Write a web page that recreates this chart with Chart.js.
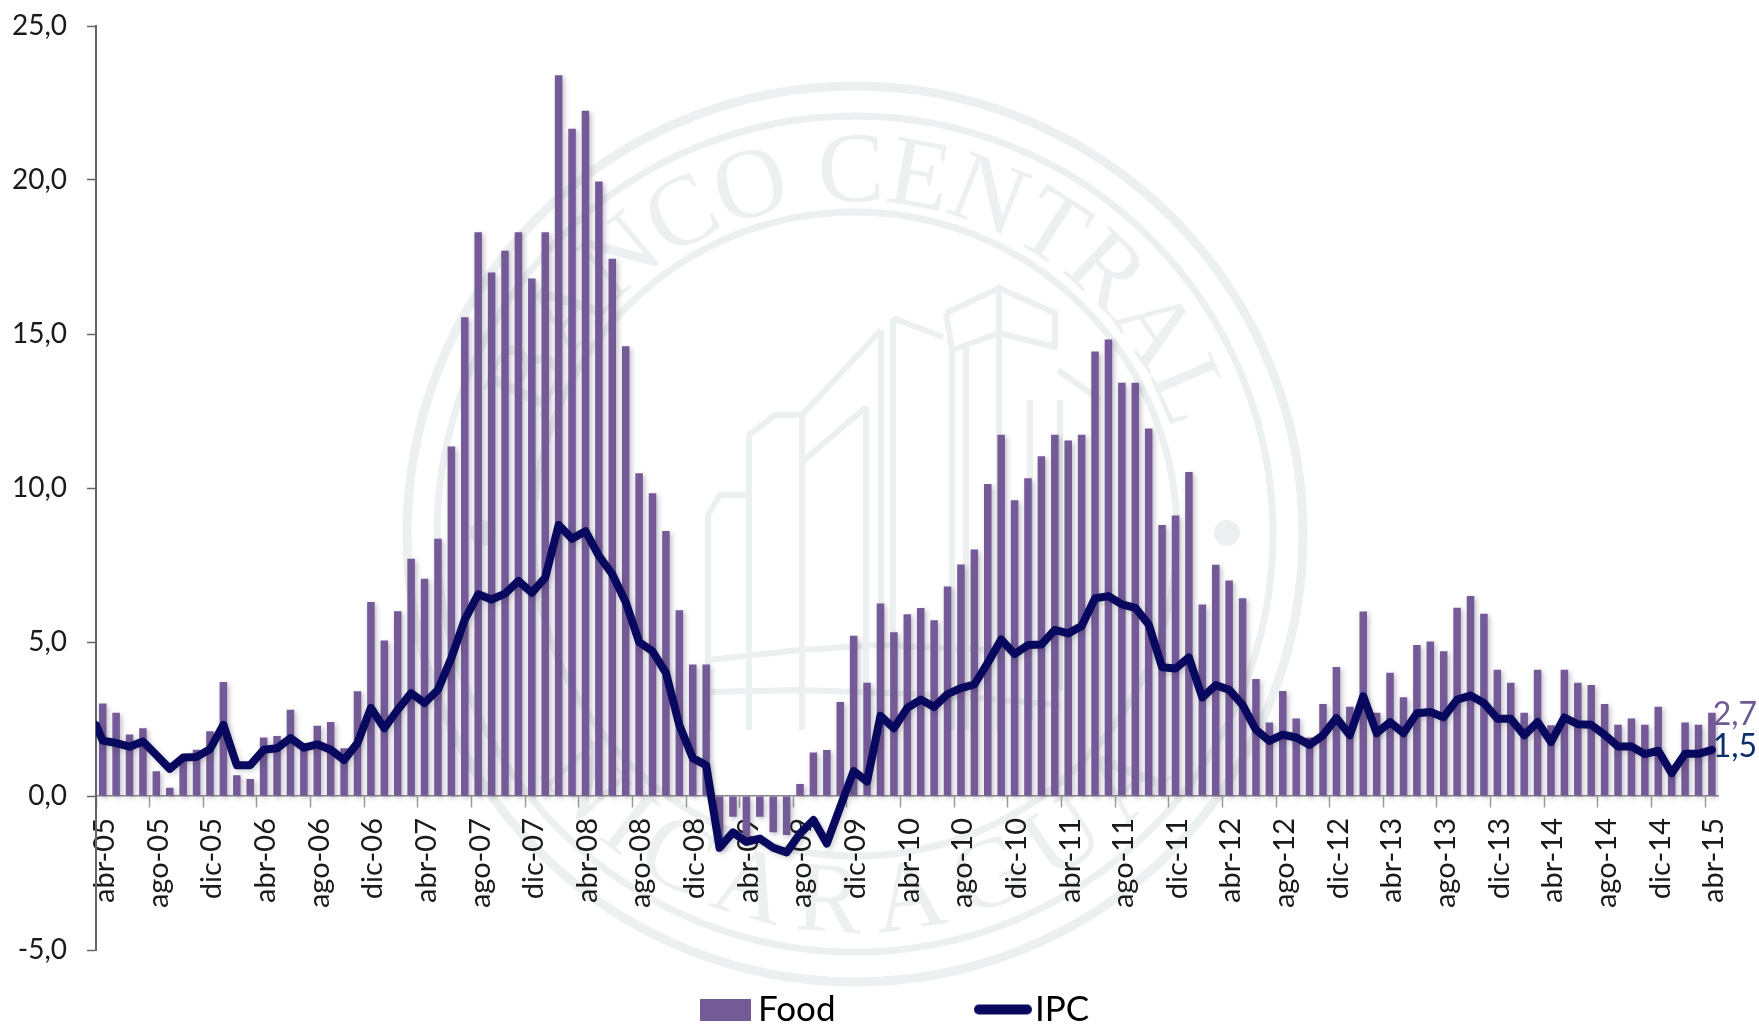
<!DOCTYPE html>
<html lang="es">
<head>
<meta charset="utf-8">
<title>Food e IPC</title>
<script src="https://cdn.jsdelivr.net/npm/chart.js@4"></script>
<style>
html,body{margin:0;padding:0;background:#fff;overflow:hidden}
#wrap{position:relative;width:1759px;height:1024px}
</style>
</head>
<body>
<div id="wrap"><canvas id="c" width="1759" height="1024"></canvas></div>
<script>
const months = [
 'abr-05','may-05','jun-05','jul-05','ago-05','sep-05','oct-05','nov-05','dic-05','ene-06','feb-06','mar-06',
 'abr-06','may-06','jun-06','jul-06','ago-06','sep-06','oct-06','nov-06','dic-06','ene-07','feb-07','mar-07',
 'abr-07','may-07','jun-07','jul-07','ago-07','sep-07','oct-07','nov-07','dic-07','ene-08','feb-08','mar-08',
 'abr-08','may-08','jun-08','jul-08','ago-08','sep-08','oct-08','nov-08','dic-08','ene-09','feb-09','mar-09',
 'abr-09','may-09','jun-09','jul-09','ago-09','sep-09','oct-09','nov-09','dic-09','ene-10','feb-10','mar-10',
 'abr-10','may-10','jun-10','jul-10','ago-10','sep-10','oct-10','nov-10','dic-10','ene-11','feb-11','mar-11',
 'abr-11','may-11','jun-11','jul-11','ago-11','sep-11','oct-11','nov-11','dic-11','ene-12','feb-12','mar-12',
 'abr-12','may-12','jun-12','jul-12','ago-12','sep-12','oct-12','nov-12','dic-12','ene-13','feb-13','mar-13',
 'abr-13','may-13','jun-13','jul-13','ago-13','sep-13','oct-13','nov-13','dic-13','ene-14','feb-14','mar-14',
 'abr-14','may-14','jun-14','jul-14','ago-14','sep-14','oct-14','nov-14','dic-14','ene-15','feb-15','mar-15',
 'abr-15'];

const food = [
 3.0,2.7,2.0,2.2,0.8,0.27,1.3,1.5,2.1,3.7,0.67,0.55,
 1.9,1.95,2.8,1.6,2.28,2.4,1.55,3.4,6.3,5.05,6.0,7.7,
 7.05,8.35,11.35,15.54,18.3,17.0,17.7,18.3,16.8,18.3,23.4,21.66,
 22.25,19.95,17.44,14.6,10.48,9.83,8.6,6.03,4.27,4.27,-1.7,-0.67,
 -1.4,-0.67,-1.18,-1.27,0.39,1.41,1.49,3.05,5.2,3.68,6.25,5.32,
 5.9,6.1,5.71,6.8,7.52,8.0,10.13,11.73,9.6,10.32,11.03,11.73,
 11.54,11.73,14.43,14.82,13.42,13.42,11.93,8.8,9.11,10.52,6.22,7.51,
 7.0,6.42,3.8,2.39,3.41,2.52,1.9,2.99,4.19,2.9,5.99,2.7,
 4.0,3.21,4.9,5.02,4.7,6.11,6.49,5.92,4.1,3.68,2.7,4.1,
 2.3,4.1,3.68,3.6,2.99,2.31,2.52,2.31,2.9,0.9,2.39,2.31,
 2.7];

const ipc = [
 1.8,1.72,1.6,1.77,1.33,0.88,1.25,1.27,1.52,2.31,1.0,1.0,
 1.5,1.55,1.88,1.57,1.68,1.5,1.17,1.72,2.86,2.2,2.8,3.34,
 3.02,3.45,4.48,5.73,6.55,6.38,6.57,6.98,6.6,7.09,8.8,8.35,
 8.6,7.8,7.2,6.3,5.0,4.7,4.0,2.3,1.23,1.0,-1.68,-1.18,
 -1.49,-1.38,-1.68,-1.83,-1.22,-0.78,-1.54,-0.35,0.81,0.47,2.6,2.2,
 2.86,3.13,2.89,3.31,3.5,3.62,4.32,5.08,4.61,4.9,4.92,5.39,
 5.28,5.52,6.42,6.49,6.22,6.11,5.57,4.18,4.14,4.5,3.2,3.6,
 3.45,2.96,2.15,1.79,1.99,1.9,1.66,1.97,2.53,1.97,3.24,2.04,
 2.4,2.04,2.69,2.73,2.56,3.13,3.26,3.02,2.51,2.51,1.97,2.4,
 1.75,2.55,2.33,2.31,1.99,1.61,1.61,1.36,1.47,0.74,1.37,1.37,
 1.5];
const ipcLeadIn = 2.3;   // where the line meets the value axis, half a month before abr-05

const FOOD_COLOR = '#745b97';
const IPC_COLOR = '#08085e';
const SEAL_COLOR = '#edf0f0';
const FONT = 'Lato, "Open Sans", sans-serif';
const fmt = v => v.toFixed(1).replace('.', ',');

function swatch(w, h, draw) {
  const c = document.createElement('canvas');
  c.width = w; c.height = h;
  draw(c.getContext('2d'));
  return c;
}
const foodSwatch = swatch(51, 22, g => { g.fillStyle = FOOD_COLOR; g.fillRect(0, 0, 51, 22); });
const ipcSwatch = swatch(58, 12, g => {
  g.strokeStyle = IPC_COLOR; g.lineWidth = 10; g.lineCap = 'round';
  g.beginPath(); g.moveTo(5, 6); g.lineTo(53, 6); g.stroke();
});

/* the bank's seal behind the chart */
function arcText(g, text, cx, cy, r, startDeg, endDeg, bottom) {
  const widths = [...text].map(ch => g.measureText(ch).width);
  const total = widths.reduce((a, b) => a + b, 0);
  const span = (endDeg - startDeg) * Math.PI / 180;
  let run = 0;
  [...text].forEach((ch, i) => {
    const mid = (run + widths[i] / 2) / total;
    const a = startDeg * Math.PI / 180 + span * mid;
    run += widths[i];
    g.save();
    if (bottom) {
      g.translate(cx + r * Math.sin(a), cy + r * Math.cos(a));
      g.rotate(-a);
    } else {
      g.translate(cx + r * Math.sin(a), cy - r * Math.cos(a));
      g.rotate(a);
    }
    g.fillText(ch, 0, 0);
    g.restore();
  });
}
const sealPlugin = {
  id: 'seal',
  beforeDraw(chart) {
    const g = chart.ctx, cx = 855, cy = 534;
    g.save();
    g.strokeStyle = SEAL_COLOR; g.fillStyle = SEAL_COLOR;
    [[448, 9], [418, 7], [322, 7]].forEach(([r, w]) => {
      g.lineWidth = w; g.beginPath(); g.arc(cx, cy, r, 0, Math.PI * 2); g.stroke();
    });
    g.textAlign = 'center'; g.textBaseline = 'alphabetic';
    g.font = '100px "Liberation Serif", serif';
    arcText(g, 'BANCO CENTRAL', cx, cy, 333, -70, 72, false);
    arcText(g, 'NICARAGUA', cx, cy, 398, -54, 54, true);
    [[1227, 533], [483, 533]].forEach(([x, y]) => {
      g.beginPath(); g.arc(x, y, 13, 0, Math.PI * 2); g.fill();
    });
    const building = [
      [[946,313],[999,288],[1055,313],[1055,347],[999,333],[952,350],[946,313]],
      [[999,288],[999,730]],
      [[952,350],[952,730]],[[966,347],[966,730]],
      [[893,318],[943,337]],[[893,318],[893,730]],[[881,330],[881,730]],
      [[881,330],[802,415]],[[802,415],[802,730]],
      [[866,407],[866,730]],[[866,407],[802,462]],
      [[802,415],[775,415],[749,435],[749,730]],
      [[749,495],[720,495],[708,515],[708,730]],
      [[1058,370],[1100,400]],[[1030,400],[1030,720]],[[1060,400],[1060,690]],
      [[708,660],[800,650],[880,645],[990,650]],
      [[708,692],[800,690],[945,695],[1060,705]]
    ];
    g.lineWidth = 6; g.lineJoin = 'round';
    building.forEach(path => {
      g.beginPath();
      path.forEach(([x, y], i) => i ? g.lineTo(x, y) : g.moveTo(x, y));
      g.stroke();
    });
    g.restore();
  }
};

/* soft shadow under the bars and the line */
const shadowPlugin = {
  id: 'softShadow',
  beforeDatasetDraw(chart, args) {
    const g = chart.ctx; g.save();
    g.shadowColor = args.index === 0 ? 'rgba(60,50,80,.32)' : 'rgba(40,40,60,.22)';
    g.shadowBlur = 5; g.shadowOffsetX = 2; g.shadowOffsetY = 2;
  },
  afterDatasetDraw(chart) { chart.ctx.restore(); }
};

/* last-value labels, positioned from the library's own elements */
const endLabels = {
  id: 'endLabels',
  afterDatasetsDraw(chart) {
    const g = chart.ctx;
    g.save();
    g.font = '32px ' + FONT; g.textAlign = 'center'; g.textBaseline = 'middle';
    const x = chart.getDatasetMeta(0).data[food.length - 1].x + 23;
    const yScale = chart.scales.y;
    g.fillStyle = '#6f5a93';
    g.fillText(fmt(food[food.length - 1]), x, yScale.getPixelForValue(food[food.length - 1]) + 2);
    g.fillStyle = '#0b2f6a';
    g.fillText(fmt(ipc[ipc.length - 1]), x, yScale.getPixelForValue(ipc[ipc.length - 1]) - 3);
    g.restore();
  }
};

/* place the legend where the reference has it */
const legendPlace = {
  id: 'legendPlace',
  afterLayout(chart) {
    const l = chart.legend, shift = 41;
    l.left += shift; l.right += shift;
    l.top = 992 - 153; l.bottom = 1024;
  }
};

new Chart(document.getElementById('c'), {
  type: 'bar',
  data: {
    labels: months,
    datasets: [
      { type: 'bar', label: 'Food', data: food, backgroundColor: FOOD_COLOR, grouped: false,
        barPercentage: 0.56, categoryPercentage: 1, order: 1, xAxisID: 'x', yAxisID: 'y' },
      { type: 'line', label: 'IPC',
        data: [{ x: -0.5, y: ipcLeadIn }, ...ipc.map((y, i) => ({ x: i, y }))],
        borderColor: IPC_COLOR, backgroundColor: IPC_COLOR, borderWidth: 8,
        borderJoinStyle: 'round', borderCapStyle: 'round', tension: 0, pointRadius: 0,
        order: 0, xAxisID: 'x2', yAxisID: 'y' }
    ]
  },
  options: {
    responsive: false, animation: false,
    layout: { padding: { left: 0, right: 40.4, top: 26, bottom: 14 } },
    plugins: {
      tooltip: { enabled: false },
      legend: {
        position: 'bottom', maxHeight: 60,
        labels: {
          usePointStyle: true, pointStyleWidth: 29, padding: 153,
          font: { family: FONT, size: 35 }, color: '#1a1a1a',
          generateLabels: () => [
            { text: 'Food', pointStyle: foodSwatch, fillStyle: FOOD_COLOR, strokeStyle: FOOD_COLOR, lineWidth: 0, datasetIndex: 0 },
            { text: 'IPC', pointStyle: ipcSwatch, fillStyle: IPC_COLOR, strokeStyle: IPC_COLOR, lineWidth: 0, datasetIndex: 1 }
          ]
        }
      }
    },
    scales: {
      x: {
        type: 'category', offset: true, position: { y: 0 },
        grid: { offset: true, drawOnChartArea: false, tickLength: 11, tickWidth: 1.5,
                tickColor: ctx => ctx.index % 4 === 0 ? '#9a9a9a' : 'rgba(0,0,0,0)' },
        border: { color: '#8a8a8a', width: 1.5 },
        ticks: {
          autoSkip: false, minRotation: 90, maxRotation: 90, padding: 11, labelOffset: 2, color: '#1a1a1a',
          font: { family: FONT, size: 29 },
          callback(value, index) { return index % 4 === 0 ? months[index] : ''; }
        }
      },
      x2: { type: 'linear', display: false, offset: false, bounds: 'data', min: -0.5, max: 120.5,
            grid: { offset: false } },
      y: {
        type: 'linear', min: -5, max: 25,
        afterFit(s) { s.width = 96; s.paddingTop = 0; s.paddingBottom = 0; },
        grid: { drawOnChartArea: false, tickLength: 9, tickColor: '#666', tickWidth: 1.5 },
        border: { color: '#666', width: 2 },
        ticks: { stepSize: 5, padding: 20, color: '#1a1a1a', font: { family: FONT, size: 28 },
                 callback: v => fmt(v) }
      }
    }
  },
  plugins: [sealPlugin, shadowPlugin, endLabels, legendPlace]
});
</script>
</body>
</html>
